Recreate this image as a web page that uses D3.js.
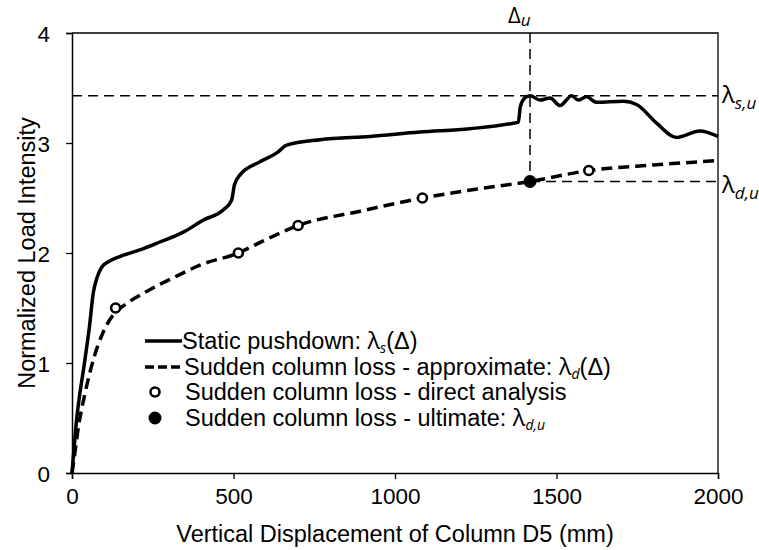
<!DOCTYPE html>
<html>
<head>
<meta charset="utf-8">
<script src="https://cdn.jsdelivr.net/npm/d3@7"></script>
<style>
  body { margin: 0; background: #fff; }
  svg { display: block; }
  text { font-family: "Liberation Sans", Arial, sans-serif; fill: #000; }
  .greek { font-family: "Open Sans", "DejaVu Sans", sans-serif; }
</style>
</head>
<body>
<svg id="chart" width="759" height="550"></svg>
<script>
// Static pushdown response λs(Δ)
const staticDisp = [0, 12, 40, 54, 66, 78, 92, 118, 150, 221, 272, 345, 407, 468, 494, 503, 520, 582, 634, 665, 768, 923, 1077, 1232, 1366, 1382, 1388, 1402, 1418, 1449, 1480, 1511, 1547, 1567, 1593, 1624, 1707, 1748, 1810, 1872, 1944, 2000];
const staticLoad = [0, 0.42, 1.03, 1.33, 1.64, 1.78, 1.87, 1.93, 1.97, 2.04, 2.10, 2.19, 2.30, 2.39, 2.48, 2.62, 2.71, 2.83, 2.91, 2.98, 3.03, 3.06, 3.10, 3.13, 3.18, 3.19, 3.33, 3.41, 3.43, 3.39, 3.41, 3.34, 3.43, 3.39, 3.42, 3.37, 3.38, 3.35, 3.18, 3.05, 3.11, 3.06];

// Sudden column loss, approximate curve λd(Δ)
const dynDisp = [0, 6, 20, 40, 66, 95, 128, 169, 231, 324, 396, 515, 592, 700, 892, 1085, 1250, 1418, 1600, 1800, 2000];
const dynLoad = [0, 0.12, 0.42, 0.72, 1.03, 1.27, 1.44, 1.54, 1.65, 1.79, 1.89, 2.0, 2.11, 2.25, 2.38, 2.5, 2.58, 2.65, 2.75, 2.80, 2.84];

// Sudden column loss, direct analysis results
const directDisp = [135, 515, 700, 1085, 1600];
const directLoad = [1.5, 2.0, 2.25, 2.5, 2.75];

// Ultimate point (Δu, λd,u) and static ultimate λs,u
const ultDisp = 1418;
const ultDynLoad = 2.65;
const ultStaticLoad = 3.43;

const xTicks = [0, 500, 1000, 1500, 2000];
const yTicks = [0, 1, 2, 3, 4];

const svg = d3.select("#chart");
const m = { left: 72, right: 41, top: 33, bottom: 77 };
const W = 759, H = 550;
const x = d3.scaleLinear().domain([0, 2000]).range([m.left, W - m.right]);
const y = d3.scaleLinear().domain([0, 4]).range([H - m.bottom, m.top]);

// frame (top and right)
svg.append("path")
  .attr("d", `M${x(0)},${y(4)}H${x(2000)}V${y(0)}`)
  .attr("fill", "none").attr("stroke", "#000").attr("stroke-width", 1.3);

// axes
const xAxis = svg.append("g").attr("transform", `translate(0,${y(0)})`)
  .call(d3.axisBottom(x).tickValues(xTicks).tickSize(6).tickPadding(8).tickFormat(d3.format("d")));
const yAxis = svg.append("g").attr("transform", `translate(${x(0)},0)`)
  .call(d3.axisLeft(y).tickValues(yTicks).tickSize(6).tickPadding(16).tickFormat(d3.format("d")));
[xAxis, yAxis].forEach(g => {
  g.selectAll("path.domain").attr("stroke", "#000").attr("stroke-width", 1.5);
  g.selectAll(".tick line").attr("stroke", "#000").attr("stroke-width", 1.3);
  g.selectAll(".tick text").attr("font-size", 22.5).attr("font-family", "Liberation Sans, Arial, sans-serif").attr("fill", "#000");
});
xAxis.selectAll(".tick text").attr("dy", "0.75em");
yAxis.selectAll(".tick text").attr("dy", "0.36em");

// axis titles
svg.append("text").attr("x", 395).attr("y", 542)
  .attr("text-anchor", "middle").attr("font-size", 23.5)
  .text("Vertical Displacement of Column D5 (mm)");
svg.append("text").attr("transform", `translate(35,${(y(0) + y(4)) / 2}) rotate(-90)`)
  .attr("text-anchor", "middle").attr("font-size", 23.5)
  .text("Normalized Load Intensity");

// reference lines for the ultimate state
const refDash = "10,6";
svg.append("line").attr("x1", x(0)).attr("x2", x(2000))
  .attr("y1", y(ultStaticLoad)).attr("y2", y(ultStaticLoad))
  .attr("stroke", "#000").attr("stroke-width", 1.5).attr("stroke-dasharray", refDash);
svg.append("line").attr("x1", x(ultDisp)).attr("x2", x(ultDisp))
  .attr("y1", y(4)).attr("y2", y(ultDynLoad))
  .attr("stroke", "#000").attr("stroke-width", 1.5).attr("stroke-dasharray", refDash);
svg.append("line").attr("x1", x(ultDisp)).attr("x2", x(2000))
  .attr("y1", y(ultDynLoad)).attr("y2", y(ultDynLoad))
  .attr("stroke", "#000").attr("stroke-width", 1.5).attr("stroke-dasharray", refDash);

// curves
const line = d3.line().x(d => x(d[0])).y(d => y(d[1])).curve(d3.curveMonotoneX);
svg.append("path").datum(staticDisp.map((d, i) => [d, staticLoad[i]]))
  .attr("d", line).attr("fill", "none").attr("stroke", "#000")
  .attr("stroke-width", 3.5).attr("stroke-linejoin", "round");
svg.append("path").datum(dynDisp.map((d, i) => [d, dynLoad[i]]))
  .attr("d", line).attr("fill", "none").attr("stroke", "#000")
  .attr("stroke-width", 3.5).attr("stroke-dasharray", "11,6");

// direct analysis points
svg.selectAll("circle.direct").data(directDisp.map((d, i) => [d, directLoad[i]]))
  .enter().append("circle").attr("class", "direct")
  .attr("cx", d => x(d[0])).attr("cy", d => y(d[1])).attr("r", 4.5)
  .attr("fill", "#fff").attr("stroke", "#000").attr("stroke-width", 2.6);

// ultimate point
svg.append("circle").attr("cx", x(ultDisp)).attr("cy", y(ultDynLoad)).attr("r", 6.5).attr("fill", "#000");

// annotations
const du = svg.append("text").attr("x", x(ultDisp) - 22).attr("y", 23).attr("font-size", 22).attr("class", "greek");
du.append("tspan").text("Δ");
du.append("tspan").attr("font-size", 17).attr("font-style", "italic").attr("dy", 3).text("u");

const lsu = svg.append("text").attr("x", x(2000) + 4).attr("y", y(ultStaticLoad) + 7).attr("font-size", 24).attr("class", "greek");
lsu.append("tspan").text("λ");
lsu.append("tspan").attr("font-size", 17).attr("font-style", "italic").attr("dy", 6).text("s,u");

const ldu = svg.append("text").attr("x", x(2000) + 4).attr("y", y(ultDynLoad) + 11).attr("font-size", 24).attr("class", "greek");
ldu.append("tspan").text("λ");
ldu.append("tspan").attr("font-size", 17).attr("font-style", "italic").attr("dy", 6).text("d,u");

// legend
const legend = svg.append("g");
const rows = [341, 367, 392, 418];
const lx0 = 145, lx1 = 182, tx = 182;
legend.append("line").attr("x1", lx0).attr("x2", lx1).attr("y1", rows[0]).attr("y2", rows[0])
  .attr("stroke", "#000").attr("stroke-width", 3.5);
legend.append("line").attr("x1", lx0).attr("x2", lx1).attr("y1", rows[1]).attr("y2", rows[1])
  .attr("stroke", "#000").attr("stroke-width", 3.5).attr("stroke-dasharray", "9,4");
legend.append("circle").attr("cx", 155).attr("cy", rows[2]).attr("r", 4.5)
  .attr("fill", "#fff").attr("stroke", "#000").attr("stroke-width", 2.6);
legend.append("circle").attr("cx", 155).attr("cy", rows[3]).attr("r", 6.5).attr("fill", "#000");

function legendText(yc, parts, xx) {
  const t = legend.append("text").attr("x", xx).attr("y", yc + 8).attr("font-size", 23.5);
  parts.forEach(p => {
    const s = t.append("tspan").text(p.t);
    if (p.greek) s.attr("class", "greek");
    if (p.sub) s.attr("font-size", 14).attr("font-style", "italic").attr("dy", 4).attr("class", "greek");
    if (p.up) s.attr("dy", -4);
  });
}
legendText(rows[0], [{ t: "Static pushdown: " }, { t: "λ", greek: true }, { t: "s", sub: true }, { t: "(Δ)", up: true }], tx);
legendText(rows[1], [{ t: "Sudden column loss - approximate: " }, { t: "λ", greek: true }, { t: "d", sub: true }, { t: "(Δ)", up: true }], tx + 2);
legendText(rows[2], [{ t: "Sudden column loss - direct analysis" }], 185);
legendText(rows[3], [{ t: "Sudden column loss - ultimate: " }, { t: "λ", greek: true }, { t: "d,u", sub: true }], 185);
</script>
</body>
</html>
